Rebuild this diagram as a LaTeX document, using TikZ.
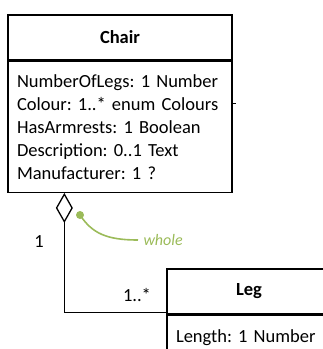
\documentclass[tikz,border=0pt]{standalone}
\usepackage{fontspec}
\setmainfont{Carlito}
\usetikzlibrary{positioning,arrows.meta}
\definecolor{notegreen}{RGB}{155,187,89}
\frenchspacing
\begin{document}
\begin{tikzpicture}[x=1pt,y=-1pt,
        every node/.style={font=\fontsize{18.5}{23}\selectfont},
        titlebox/.style={draw,line width=1.3pt,minimum height=45pt,font=\fontsize{18.5}{23}\selectfont\bfseries},
        attrbox/.style={draw,line width=1.3pt,align=left,inner xsep=9pt,anchor=north},
        notestyle/.style={notegreen,line width=1.6pt}]
        \useasboundingbox (0,0) rectangle (323,349);
        \node [titlebox,minimum width=224pt] (chair) at (120,37.5) {Chair};
        \node [attrbox,minimum width=224pt,minimum height=131pt,text width=206pt] (chairattr) at (chair.south) {NumberOfLegs: 1 Number\\Colour: 1..* enum Colours\\HasArmrests: 1 Boolean\\Description: 0..1 Text\\Manufacturer: 1 ?};
        \node [titlebox,minimum width=164pt] (leg) at (249,291.5) {Leg};
        \node [attrbox,minimum width=164pt,minimum height=45pt,text width=146pt] (legattr) at (leg.south) {Length: 1 Number};
        \coordinate [xshift=57pt] (whole) at (chairattr.south west);
        \coordinate [yshift=2pt] (part) at (leg.south west);
        \draw [line width=1.3pt,{Diamond[open,length=30pt,width=17pt,line width=1.3pt]}-] (whole) |- (part);
        \node (mwhole) at (39,242) {1};
        \node (mpart) at (137,295) {1..*};
        \coordinate (stub) at (chairattr.east |- 0,103);
        \draw [line width=1pt] (stub) -- ++(3,0);
        \fill [notegreen] (80,215) circle (4) coordinate (dot);
        \node [notegreen,font=\fontsize{16}{19}\selectfont\itshape,anchor=west] (notetext) at (140,240) {whole};
        \draw [notestyle] (dot) .. controls (92,233) and (106,240) .. ([xshift=-2pt]notetext.west);
\end{tikzpicture}
\end{document}
